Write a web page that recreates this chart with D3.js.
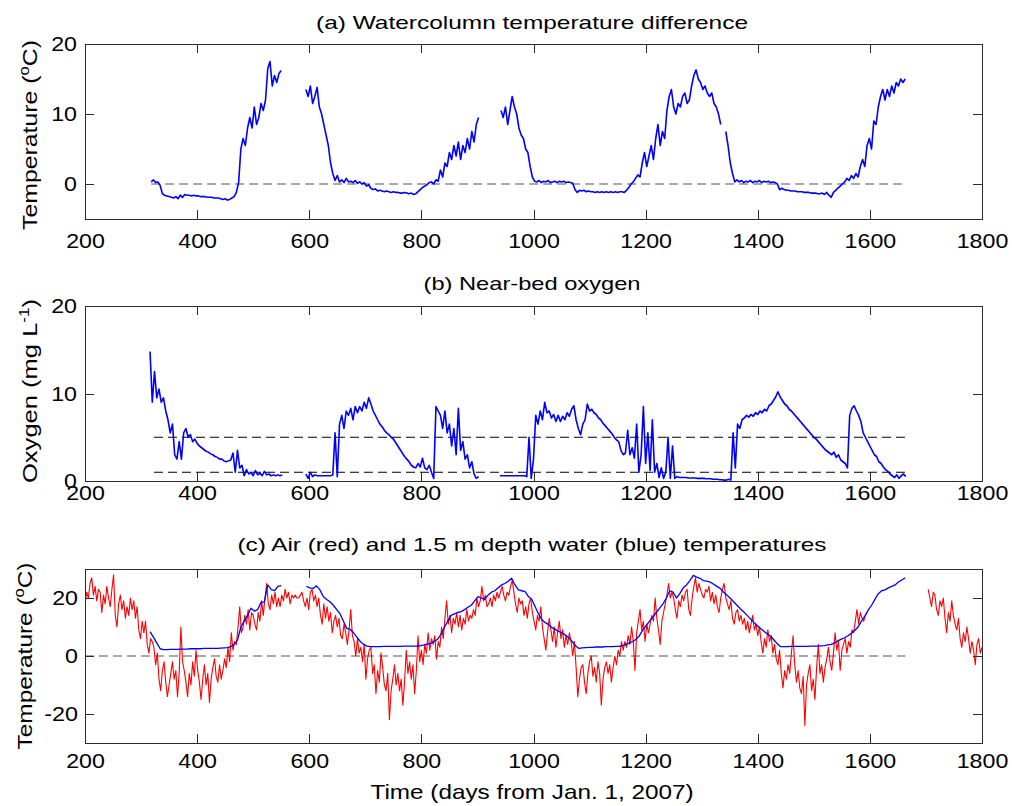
<!DOCTYPE html>
<html>
<head>
<meta charset="utf-8">
<script src="https://cdn.jsdelivr.net/npm/d3@7"></script>
<style>
body { margin: 0; background: #fff; }
text { font-family: "Liberation Sans", Arial, sans-serif; fill: #000; }
</style>
</head>
<body>
<script>
//x ticks shared by all three panels
var xTicks = [200, 400, 600, 800, 1000, 1200, 1400, 1600, 1800];

//(a) watercolumn temperature difference, one value every 4 days
var diffStep = 4;
var diffStarts = [318, 594, 942, 1343];
var diffSeg1 = [0.3, 0.6, 0.2, 0.3, -0.2, -1.4, -1.6, -1.7, -1.8, -1.9, -2.0, -1.8, -2.1, -1.6, -1.9, -1.5, -1.6, -1.6, -1.7, -1.6,
  -1.7, -1.7, -1.8, -1.8, -1.8, -1.9, -1.9, -1.9, -2.0, -2.0, -2.0, -2.1, -2.2, -2.1, -2.3, -2.2, -2.0, -1.8, -1.2, 0.2,
  5.0, 6.5, 5.5, 8.0, 9.5, 8.0, 11.0, 8.5, 9.5, 11.5, 10.5, 12.0, 16.5, 17.5, 14.0, 15.5, 14.5, 15.8, 16.2];
var diffSeg2 = [13.5, 12.5, 14.0, 11.5, 12.5, 13.8, 11.0, 10.0, 8.5, 7.0, 5.5, 3.0, 1.5, 0.5, 1.2, 0.3, 0.6, 0.2, 0.8, 0.3,
  0.4, 0.2, 0.5, 0.1, 0.3, 0.0, 0.2, -0.3, -0.1, -0.6, -0.8, -0.7, -1.0, -0.9, -1.0, -1.1, -1.0, -1.1, -1.2, -1.1,
  -1.2, -1.2, -1.3, -1.3, -1.2, -1.3, -1.4, -1.3, -1.5, -1.4, -1.1, -0.8, -0.5, -0.3, -0.1, 0.2, 0.3, 0.0, 0.6, 0.4,
  2.0, 1.0, 3.0, 2.5, 4.5, 3.5, 5.5, 4.0, 6.0, 3.5, 5.5, 4.5, 6.5, 5.0, 7.5, 6.0, 8.5, 9.5];
var diffSeg3 = [10.5, 9.5, 11.0, 8.5, 10.5, 12.5, 11.0, 10.0, 8.0, 7.0, 6.5, 5.0, 4.5, 2.5, 1.0, 0.4, 0.3, 0.5, 0.2, 0.4,
  0.3, 0.5, 0.2, 0.3, 0.4, 0.2, 0.4, 0.3, 0.4, 0.2, 0.3, 0.2, 0.1, -0.8, -1.2, -0.9, -1.0, -0.9, -1.1, -1.0,
  -1.1, -1.1, -1.2, -1.1, -1.2, -1.1, -1.2, -1.1, -1.2, -1.1, -1.2, -1.1, -1.2, -1.1, -1.1, -1.2, -0.9, -0.5, 0.0, 0.3,
  0.8, 1.3, 1.0, 3.0, 4.5, 2.5, 4.0, 5.5, 3.5, 6.5, 8.5, 5.5, 7.5, 6.5, 10.5, 12.5, 13.5, 11.0, 10.0, 11.5,
  11.0, 12.5, 13.0, 11.5, 12.0, 14.0, 15.5, 16.3, 15.0, 14.5, 13.5, 14.0, 13.0, 12.5, 13.0, 11.5, 11.0, 10.0, 8.5];
var diffSeg4 = [7.5, 5.5, 3.0, 1.5, 0.3, 0.6, 0.3, 0.5, 0.2, 0.4, 0.3, 0.5, 0.2, 0.4, 0.3, 0.5, 0.2, 0.4, 0.3, 0.4,
  0.2, 0.3, 0.2, 0.0, -0.8, -0.6, -0.8, -0.9, -0.9, -1.0, -1.0, -1.0, -1.1, -1.1, -1.1, -1.2, -1.2, -1.2, -1.3, -1.3,
  -1.3, -1.4, -1.4, -1.3, -1.5, -1.2, -1.6, -1.9, -1.2, -0.9, -0.6, -0.3, 0.0, 0.3, 0.8, 0.5, 1.2, 0.8, 1.5, 1.0,
  2.5, 3.5, 2.5, 5.5, 6.5, 5.0, 9.0, 8.5, 11.0, 12.5, 13.5, 12.0, 13.5, 12.5, 14.0, 13.0, 14.5, 14.0, 15.0, 14.5, 15.0];
var diffZeroDays = [318, 1663];

//(b) near-bed oxygen, one value every 4 days
var oxyStep = 4;
var oxyStarts = [316, 594, 940];
var oxySeg1 = [14.8, 9.0, 12.5, 9.5, 10.5, 9.0, 9.5, 8.0, 7.0, 5.5, 6.5, 3.0, 2.5, 4.5, 2.5, 5.5, 6.0, 5.0, 5.3, 4.5,
  4.8, 4.3, 4.0, 3.8, 3.6, 3.4, 3.3, 3.1, 3.0, 2.8, 2.7, 2.5, 2.5, 2.3, 2.2, 2.3, 2.4, 3.2, 1.0, 3.5,
  1.5, 1.8, 0.6, 1.3, 0.8, 1.0, 0.6, 1.2, 0.7, 0.9, 0.6, 1.1, 0.7, 0.8, 0.6, 0.7, 0.6, 0.7, 0.6, 0.7];
var oxySeg2 = [0.8, 0.3, 1.0, 0.5, 0.7, 0.6, 0.6, 0.6, 0.6, 0.6, 0.6, 0.6, 0.7, 5.5, 0.5, 6.5, 7.5, 6.0, 8.0, 7.5,
  8.3, 7.0, 8.5, 7.8, 8.5, 8.0, 9.0, 8.3, 9.5, 8.8, 8.0, 7.5, 7.0, 6.5, 6.2, 5.8, 5.5, 5.3, 5.0, 4.8,
  4.4, 4.0, 3.6, 3.2, 2.8, 2.5, 2.2, 1.8, 1.6, 1.5, 2.0, 1.6, 2.6, 1.5, 1.3, 1.8, 1.0, 0.3, 8.5, 8.0,
  7.5, 6.0, 8.0, 5.5, 6.5, 4.0, 6.0, 3.0, 8.3, 3.5, 4.5, 2.5, 3.0, 1.5, 2.2, 0.8, 0.3, 0.5];
var oxySeg3 = [0.6, 0.6, 0.6, 0.6, 0.6, 0.6, 0.6, 0.6, 0.6, 0.6, 0.6, 0.6, 0.5, 5.0, 0.3, 2.5, 7.5, 6.5, 8.0, 7.0,
  9.0, 7.8, 8.0, 7.2, 7.6, 6.8, 7.5, 6.8, 7.4, 7.0, 7.8, 7.4, 8.2, 8.6, 7.0, 6.0, 5.3, 6.5, 7.0, 8.8,
  8.0, 8.2, 7.8, 7.6, 7.2, 7.0, 6.6, 6.3, 6.0, 5.7, 5.4, 5.0, 4.7, 4.5, 3.5, 3.0, 3.2, 5.8, 3.0, 3.8,
  2.6, 6.5, 1.0, 3.0, 8.5, 2.0, 5.5, 1.2, 7.0, 1.0, 2.0, 0.4, 1.5, 0.3, 1.0, 5.0, 0.3, 4.0, 0.3, 0.5,
  0.4, 0.4, 0.4, 0.4, 0.35, 0.35, 0.35, 0.35, 0.3, 0.3, 0.3, 0.3, 0.25, 0.25, 0.25, 0.2, 0.2, 0.2, 0.15, 0.15,
  0.1, 0.1, 0.2, 0.1, 5.5, 1.5, 6.5, 6.0, 7.0, 7.2, 7.5, 7.3, 7.6, 7.4, 7.8, 7.6, 8.0, 7.8, 8.2, 8.0,
  8.6, 8.8, 9.2, 9.6, 10.2, 9.6, 9.2, 8.8, 8.6, 8.2, 8.0, 7.7, 7.4, 7.1, 6.8, 6.5, 6.2, 5.9, 5.6, 5.3,
  5.0, 4.8, 4.5, 4.2, 3.9, 3.6, 3.4, 3.2, 3.0, 3.3, 2.7, 3.0, 2.4, 2.2, 2.0, 1.5, 7.5, 8.3, 8.6, 8.0,
  7.5, 6.8, 5.5, 5.0, 4.5, 4.0, 3.5, 3.0, 2.8, 2.2, 2.0, 1.6, 1.3, 1.1, 0.8, 0.6, 0.4, 0.7, 0.3, 0.6, 0.8, 0.5];
var oxyLevels = [5, 1];
var oxyLevelDays = [323, 1663];

//(c) air temperature (red), one value every 3 days
var airStep = 3;
var airStarts = [200, 1704];
var airSeg1 = [18, 22, 20, 25, 27, 21, 24, 19, 23, 22,
  15, 21, 18, 24, 20, 17, 23, 28, 14, 10,
  18, 21, 16, 19, 13, 17, 14, 20, 16, 19,
  13, 17, 9, 6, 12, 8, 12, 4, 1, 6,
  5, 3, -3, 1, -8, -12, -5, -2, -9, -14,
  -10, -6, -2, -8, -5, -14, -6, 10, -2, -5,
  -9, -14, -6, -10, -2, -7, 2, -5, -9, -15,
  -8, -3, -10, -6, -16, -8, -4, -1, -7, -9,
  -3, -8, -5, -1, -4, 3, -2, 8, 2, 5,
  4, 10, 17, 8, 10, 14, 11, 16, 9, 15,
  14, 11, 9, 15, 12, 19, 14, 20, 25, 18,
  16, 21, 18, 22, 17, 20, 17, 21, 19, 23,
  20, 22, 18, 21, 20, 21, 20, 20, 21, 22,
  19, 17, 20, 16, 22, 23, 19, 21, 17, 20,
  14, 11, 18, 13, 17, 12, 15, 8, 12, 14,
  10, 13, 7, 6, 11, 8, 4, 9, 16, 7,
  5, 0, 6, 1, 3, -2, 4, -8, -1, 2,
  3, -6, -3, -13, -5, -9, 1, -4, -10, -12,
  -6, -22, -12, -8, -3, -10, -6, -12, -8, -17,
  -9, 2, -6, -2, -8, -3, -13, -5, 7, -2,
  2, -3, 4, 1, 8, 2, 6, 4, 7, -1,
  5, 3, 10, 6, 13, 19, 11, 14, 8, 13,
  11, 15, 10, 14, 9, 13, 11, 16, 12, 14,
  13, 16, 14, 20, 17, 19, 24, 19, 21, 17,
  18, 20, 17, 21, 19, 22, 20, 22, 24, 21,
  19, 22, 21, 24, 26, 22, 18, 15, 20, 18,
  19, 14, 17, 13, 18, 20, 15, 12, 9, 14,
  12, 17, 10, 6, 2, 8, 13, 9, 5, 10,
  3, 8, 12, 6, 9, 3, 7, 4, 8, 5,
  0, 5, -4, -14, -8, -4, -3, -9, -13, -6,
  -2, 0, -7, -4, -9, -2, -6, -17, -8, -4,
  -2, -6, -3, -9, -4, 0, -3, 2, 0, 5,
  2, 5, 3, 7, 4, 10, 5, -5, 8, 12,
  16, 9, 12, 5, 11, 8, 11, 14, 12, 20,
  13, 9, 4, 12, 15, 18, 21, 25, 20, 22,
  20, 16, 13, 19, 17, 21, 19, 22, 23, 16,
  14, 20, 24, 27, 22, 25, 23, 21, 20, 23,
  22, 24, 19, 22, 18, 21, 17, 15, 20, 23,
  25, 20, 18, 16, 19, 13, 11, 15, 16, 12,
  14, 11, 13, 9, 12, 8, 11, 14, 9, 11,
  7, 10, 5, 1, 6, 3, 9, 5, 7, 1,
  4, -1, -3, 2, -6, -11, -5, -8, -3, -6,
  1, 7, -3, -9, -5, -11, -13, -7, -24, -10,
  -6, -3, -12, -8, -15, -4, 4, -6, -3, -9,
  -4, -1, 3, -2, -5, 1, 8, 2, 5, -5,
  2, 4, 6, 1, 5, 3, 9, 8, 12, 16,
  11, 15, 13, 12, 14, 15];
var airSeg2 = [23, 20, 17, 22, 21, 16, 14, 19, 17, 20, 13, 8, 15, 12, 19, 14, 11, 9, 13, 6,
  3, 8, 5, 10, 6, 1, 5, 2, -3, 4, 6, 1, 3];

//(c) 1.5 m water temperature (blue), one value every 6 days
var waterStep = 6;
var waterStarts = [316, 595];
var waterSeg1 = [8.4, 6.5, 4.5, 2.5, 2.2, 2.2, 2.3, 2.3, 2.3, 2.4, 2.4, 2.4, 2.5, 2.5, 2.5, 2.5, 2.6, 2.6, 2.6, 2.6,
  2.6, 2.7, 2.8, 2.9, 3.2, 4.0, 5.5, 10.0, 12.0, 14.0, 16.5, 15.5, 16.0, 18.5, 18.7, 24.5, 23.0, 22.5, 24.0, 24.3];
var waterSeg2 = [24.0, 23.5, 23.3, 24.2, 22.8, 20.5, 19.5, 18.7, 17.5, 16.0, 14.5, 12.0, 9.5, 9.2, 8.0, 6.5, 5.0, 4.0, 3.4, 3.2,
  3.2, 3.2, 3.2, 3.3, 3.3, 3.3, 3.3, 3.3, 3.3, 3.4, 3.4, 3.4, 3.4, 3.4, 3.6, 3.8, 4.1, 4.4, 5.0, 5.8,
  7.5, 9.8, 12.0, 14.0, 14.5, 15.0, 15.3, 16.0, 16.8, 17.5, 19.0, 20.5, 20.0, 19.5, 21.0, 22.0, 22.5, 23.5, 24.5, 25.0,
  25.8, 26.8, 24.5, 22.8, 22.5, 22.2, 20.5, 19.5, 17.0, 14.5, 12.5, 11.5, 10.8, 9.8, 9.2, 8.5, 8.0, 7.2, 6.3, 5.0,
  3.5, 2.6, 2.8, 2.9, 3.0, 3.0, 3.1, 3.1, 3.1, 3.2, 3.2, 3.2, 3.3, 3.3, 3.6, 4.0, 4.5, 5.0, 5.8, 7.0,
  9.0, 10.5, 12.0, 13.5, 15.0, 16.5, 18.0, 20.0, 22.5, 22.0, 20.0, 21.5, 23.5, 24.5, 26.0, 27.8, 27.2, 26.8, 26.0, 25.8,
  25.5, 24.8, 24.0, 23.3, 22.0, 21.0, 19.9, 18.7, 17.5, 16.3, 15.2, 14.0, 12.8, 11.6, 10.5, 9.5, 8.5, 7.6, 6.8, 5.5,
  4.2, 3.2, 3.2, 3.2, 3.3, 3.3, 3.3, 3.3, 3.3, 3.3, 3.4, 3.4, 3.4, 3.5, 3.6, 3.8, 4.0, 4.5, 5.2, 5.8,
  6.3, 7.0, 7.8, 8.8, 10.0, 12.0, 13.8, 15.8, 17.5, 19.5, 21.5, 22.5, 22.8, 23.5, 24.0, 24.5, 25.5, 26.2, 27.0];
var airZeroDays = [200, 1663];

//turn a regularly sampled run into [day, value] points
function toPoints(start, step, vals) {
    return vals.map(function(v, i) { return [start + i * step, v]; });
}

//create svg
var svg = d3.select("body").append("svg")
    .attr("width", 1012)
    .attr("height", 806);

var x = d3.scaleLinear().domain([200, 1800]).range([85, 982]);
var axisColor = "#2b2b2b";

//width of a tick label, the reference font is wider than Arial
function labelLength(s) {
    var n = s.replace("-", "").length;
    return n * 12.9 + (s.indexOf("-") >= 0 ? 8 : 0);
}

function drawPanel(p) {
    var y = d3.scaleLinear().domain(p.domain).range([p.bottom, p.top]);
    var g = svg.append("g");

    g.append("clipPath").attr("id", p.id)
      .append("rect")
        .attr("x", 85).attr("y", p.top)
        .attr("width", 897).attr("height", p.bottom - p.top);

    var plot = g.append("g").attr("clip-path", "url(#" + p.id + ")");

    //dashed reference lines
    p.refs.forEach(function(r) {
        plot.append("line")
            .attr("x1", x(r.days[0])).attr("x2", x(r.days[1]))
            .attr("y1", y(r.level)).attr("y2", y(r.level))
            .attr("stroke", r.color)
            .attr("stroke-width", 1.2)
            .attr("stroke-dasharray", "9,5");
    });

    var line = d3.line()
        .x(function(d) { return x(d[0]); })
        .y(function(d) { return y(d[1]); });

    p.series.forEach(function(s) {
        s.segments.forEach(function(seg) {
            plot.append("path")
                .datum(seg)
                .attr("d", line)
                .attr("fill", "none")
                .attr("stroke", s.color)
                .attr("stroke-width", s.width)
                .attr("stroke-linejoin", "round");
        });
    });

    //box
    g.append("rect")
        .attr("x", 85).attr("y", p.top)
        .attr("width", 897).attr("height", p.bottom - p.top)
        .attr("fill", "none")
        .attr("stroke", axisColor)
        .attr("shape-rendering", "crispEdges");

    function tidy(a) {
        a.select(".domain").remove();
        a.attr("color", axisColor).attr("font-family", null).attr("font-size", null);
        a.selectAll("line").attr("shape-rendering", "crispEdges");
    }

    //bottom axis with labels
    var xb = g.append("g")
        .attr("transform", "translate(0," + p.bottom + ")")
        .call(d3.axisBottom(x).tickValues(xTicks).tickFormat(function(d) { return String(d); })
              .tickSizeInner(-9).tickSizeOuter(0).tickPadding(p.xPad))
        .call(tidy);

    //top axis, ticks only
    g.append("g")
        .attr("transform", "translate(0," + p.top + ")")
        .call(d3.axisTop(x).tickValues(xTicks).tickFormat("")
              .tickSizeInner(-9).tickSizeOuter(0))
        .call(tidy);

    //left axis with labels
    var yl = g.append("g")
        .attr("transform", "translate(85,0)")
        .call(d3.axisLeft(y).tickValues(p.ticks).tickFormat(function(d) { return String(d); })
              .tickSizeInner(-9).tickSizeOuter(0).tickPadding(p.yPad))
        .call(tidy);

    //right axis, ticks only
    g.append("g")
        .attr("transform", "translate(982,0)")
        .call(d3.axisRight(y).tickValues(p.ticks).tickFormat("")
              .tickSizeInner(-9).tickSizeOuter(0))
        .call(tidy);

    [xb, yl].forEach(function(a) {
        a.selectAll("text")
            .style("fill", "#000")
            .attr("font-size", 21)
            .attr("textLength", function(d) { return labelLength(String(d)); })
            .attr("lengthAdjust", "spacingAndGlyphs");
    });

    //title
    svg.append("text")
        .attr("x", 532)
        .attr("y", p.titleY)
        .attr("text-anchor", "middle")
        .attr("font-size", 19)
        .attr("textLength", p.titleLen)
        .attr("lengthAdjust", "spacingAndGlyphs")
        .text(p.title);

    //y label with a superscript part
    var t = svg.append("text")
        .attr("transform", "translate(" + p.ylabX + "," + p.ylabY + ") rotate(-90)")
        .attr("text-anchor", "middle")
        .attr("font-size", 21)
        .attr("textLength", p.ylabLen)
        .attr("lengthAdjust", "spacingAndGlyphs");
    t.append("tspan").text(p.ylab[0]);
    t.append("tspan").attr("font-size", 14).attr("dy", -8).text(p.ylab[1]);
    t.append("tspan").attr("dy", 8).text(p.ylab[2]);
}

drawPanel({
    id: "clipA", top: 44, bottom: 219, domain: [-5, 20], ticks: [0, 10, 20],
    xPad: 14, yPad: 8,
    title: "(a) Watercolumn temperature difference", titleY: 29, titleLen: 432,
    ylab: ["Temperature (", "o", "C)"], ylabX: 37, ylabY: 135, ylabLen: 190,
    refs: [{ days: diffZeroDays, level: 0, color: "#555" }],
    series: [{
        color: "#0000ff", width: 1.6,
        segments: [diffSeg1, diffSeg2, diffSeg3, diffSeg4].map(function(v, i) {
            return toPoints(diffStarts[i], diffStep, v);
        })
    }]
});

drawPanel({
    id: "clipB", top: 306, bottom: 481, domain: [0, 20], ticks: [0, 10, 20],
    xPad: 4, yPad: 8,
    title: "(b) Near-bed oxygen", titleY: 290, titleLen: 217,
    ylab: ["Oxygen (mg L", "-1", ")"], ylabX: 37, ylabY: 391, ylabLen: 184,
    refs: oxyLevels.map(function(l) { return { days: oxyLevelDays, level: l, color: "#000" }; }),
    series: [{
        color: "#0000ff", width: 1.6,
        segments: [oxySeg1, oxySeg2, oxySeg3].map(function(v, i) {
            return toPoints(oxyStarts[i], oxyStep, v);
        })
    }]
});

drawPanel({
    id: "clipC", top: 569, bottom: 743, domain: [-30, 30], ticks: [-20, 0, 20],
    xPad: 10, yPad: 7,
    title: "(c) Air (red) and 1.5 m depth water (blue) temperatures", titleY: 551, titleLen: 589,
    ylab: ["Temperature (", "o", "C)"], ylabX: 32, ylabY: 656, ylabLen: 187,
    refs: [{ days: airZeroDays, level: 0, color: "#555" }],
    series: [{
        color: "#ff0000", width: 1.1,
        segments: [airSeg1, airSeg2].map(function(v, i) {
            return toPoints(airStarts[i], airStep, v);
        })
    }, {
        color: "#0000ff", width: 1.3,
        segments: [waterSeg1, waterSeg2].map(function(v, i) {
            return toPoints(waterStarts[i], waterStep, v);
        })
    }]
});

//x axis label
svg.append("text")
    .attr("x", 532)
    .attr("y", 799)
    .attr("text-anchor", "middle")
    .attr("font-size", 21)
    .attr("textLength", 323)
    .attr("lengthAdjust", "spacingAndGlyphs")
    .text("Time (days from Jan. 1, 2007)");
</script>
</body>
</html>
